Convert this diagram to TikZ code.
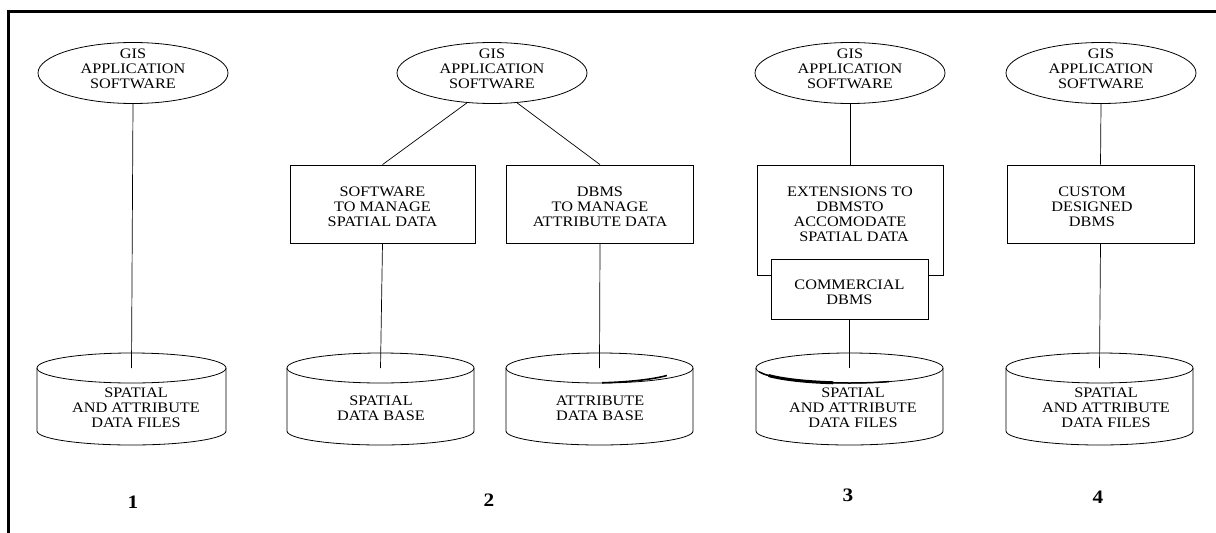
\documentclass[tikz,border=0pt]{standalone}
\usepackage{fontspec}
\setmainfont{Liberation Serif}[FakeStretch=1.12]
\usetikzlibrary{shapes.geometric}
\begin{document}
\begin{tikzpicture}[x=1pt,y=-1pt,
  every node/.style={font=\fontsize{14.5}{15}\selectfont, align=center, inner sep=0pt},
  line/.style={line width=0.7pt},
  app/.style={ellipse, draw, line width=0.8pt, minimum width=190pt, minimum height=61pt},
  boxnode/.style={draw, line width=0.8pt, fill=white},
  num/.style={font=\fontsize{19}{19}\selectfont\bfseries}]
\useasboundingbox (0,0) rectangle (1216,533);
% frame
\draw[line width=3pt] (8,533) -- (8,11) -- (1216,11);

% cylinder macro
\newcommand\mycyl[5]{% name, left, right, text x, text
  \draw[line width=0.8pt] ({(#2+#3)/2},368) ellipse[x radius={(#3-#2)/2}, y radius=15];
  \draw[line width=0.8pt] ({#2},368) -- ({#2},431)
     arc[start angle=180, end angle=0, x radius={(#3-#2)/2}, y radius=14] -- ({#3},368);
  \coordinate (#1top) at ({(#2+#3)/2},368);
  \node (#1) at ({#4},408) {#5};
}

% ---------- column 1
\node[app] (e1) at (133,73) {};
\node (e1t) at (133,69) {GIS\\APPLICATION\\SOFTWARE};
\mycyl{c1}{37}{226}{136}{SPATIAL\\AND ATTRIBUTE\\DATA FILES}
\draw[line] (e1.south) -- (c1top);
\node[num] (n1) at (133,502) {1};

% ---------- column 2
\node[app] (e2) at (492,73) {};
\node (e2t) at (492,69) {GIS\\APPLICATION\\SOFTWARE};
\node[boxnode, minimum width=185pt, minimum height=78pt] (b2a) at (382.5,204) {};
\node (b2at) at (382.5,207) {SOFTWARE\\TO MANAGE\\SPATIAL DATA};
\node[boxnode, minimum width=187pt, minimum height=78pt] (b2b) at (600,204) {};
\node (b2bt) at (600,207) {DBMS\\TO MANAGE\\ATTRIBUTE DATA};
\mycyl{c2a}{287}{474}{381}{SPATIAL\\DATA BASE}
\mycyl{c2b}{506}{693}{600}{ATTRIBUTE\\DATA BASE}
\draw[line width=1.6pt] (599.5,368) ++(80:15) arc[start angle=80, end angle=30, x radius=93.5, y radius=15];
\draw[line] (e2.-130) -- (b2a.north);
\draw[line] (e2.-50) -- (b2b.north);
\draw[line] (b2a.south) -- (c2atop);
\draw[line] (b2b.south) -- (c2btop);
\node[num] (n2) at (489,500) {2};

% ---------- column 3
\node[app] (e3) at (850,73) {};
\node (e3t) at (850,69) {GIS\\APPLICATION\\SOFTWARE};
\node[boxnode, minimum width=186pt, minimum height=110pt] (b3a) at (850,220) {};
\node (b3at) at (850,214.5) {EXTENSIONS TO\\DBMSTO\\ACCOMODATE\\\ \ SPATIAL DATA};
\node[boxnode, minimum width=157pt, minimum height=60pt] (b3b) at (849.5,289) {};
\node (b3bt) at (849.5,292) {COMMERCIAL\\DBMS};
\mycyl{c3}{756}{943}{853}{SPATIAL\\AND ATTRIBUTE\\DATA FILES}
\draw[line width=1.5pt] (849.5,368) ++(165:93.5 and 15) arc[start angle=165, end angle=65, x radius=93.5, y radius=15];
\draw[line width=3pt] (849.5,368) ++(150:93.5 and 15) arc[start angle=150, end angle=100, x radius=93.5, y radius=15];
\draw[line] (e3.south) -- (b3a.north);
\draw[line] (b3b.south) -- (c3top);
\node[num] (n3) at (848,495) {3};

% ---------- column 4
\node[app] (e4) at (1101,73) {};
\node (e4t) at (1101,69) {GIS\\APPLICATION\\SOFTWARE};
\node[boxnode, minimum width=187pt, minimum height=78pt] (b4) at (1100.5,204) {};
\node (b4t) at (1092,207) {CUSTOM\\DESIGNED\\DBMS};
\mycyl{c4}{1006}{1193}{1106}{SPATIAL\\AND ATTRIBUTE\\DATA FILES}
\draw[line] (e4.south) -- (b4.north);
\draw[line] (b4.south) -- (c4top);
\node[num] (n4) at (1098,497) {4};
\end{tikzpicture}
\end{document}
